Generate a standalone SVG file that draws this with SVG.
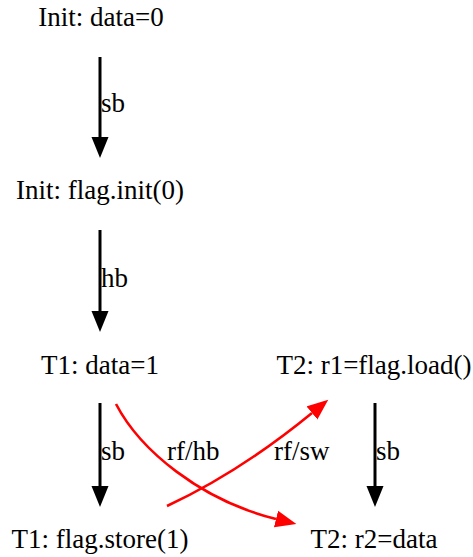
<svg xmlns="http://www.w3.org/2000/svg" width="473" height="557" viewBox="0 0 473 557">
<style>
text{font-family:"Liberation Serif","Times New Roman",serif;font-size:27px;fill:#000}
.n text{text-anchor:middle}
.e{fill:none;stroke-width:3}
.k{stroke:#000}
.r{stroke:#f00;stroke-width:2.6}
</style>
<defs>
<marker id="ab" markerUnits="userSpaceOnUse" markerWidth="22" markerHeight="18" refX="0" refY="8.5" orient="auto" viewBox="0 0 22 17"><path d="M0,0 L21,8.5 L0,17 z" fill="#000"/></marker>
<marker id="ar" markerUnits="userSpaceOnUse" markerWidth="22" markerHeight="18" refX="0" refY="8.5" orient="auto" viewBox="0 0 22 17"><path d="M0,0 L21,8.5 L0,17 z" fill="#f00"/></marker>
</defs>
<rect width="473" height="557" fill="#fff"/>
<g id="edges">
<path class="e k" d="M100,57 V137" marker-end="url(#ab)"/>
<text x="101" y="112">sb</text>
<path class="e k" d="M100,230 V311" marker-end="url(#ab)"/>
<text x="101" y="287">hb</text>
<path class="e k" d="M100,403 V486" marker-end="url(#ab)"/>
<text x="101" y="460">sb</text>
<path class="e k" d="M375,403 V486" marker-end="url(#ab)"/>
<text x="376" y="460">sb</text>
<path class="e r" d="M116,404 C140,450 200,500 276,519" marker-end="url(#ar)"/>
<text x="167" y="460">rf/hb</text>
<path class="e r" d="M167,506 Q240,472 312,413" marker-end="url(#ar)"/>
<text x="274" y="460">rf/sw</text>
</g>
<g id="n_init_data" class="n"><text x="101" y="26">Init: data=0</text></g>
<g id="n_init_flag" class="n"><text x="100" y="199">Init: flag.init(0)</text></g>
<g id="n_t1_data" class="n"><text x="100" y="374">T1: data=1</text></g>
<g id="n_t2_load" class="n"><text x="374" y="374">T2: r1=flag.load()</text></g>
<g id="n_t1_store" class="n"><text x="100" y="548">T1: flag.store(1)</text></g>
<g id="n_t2_r2" class="n"><text x="374" y="548">T2: r2=data</text></g>
</svg>
